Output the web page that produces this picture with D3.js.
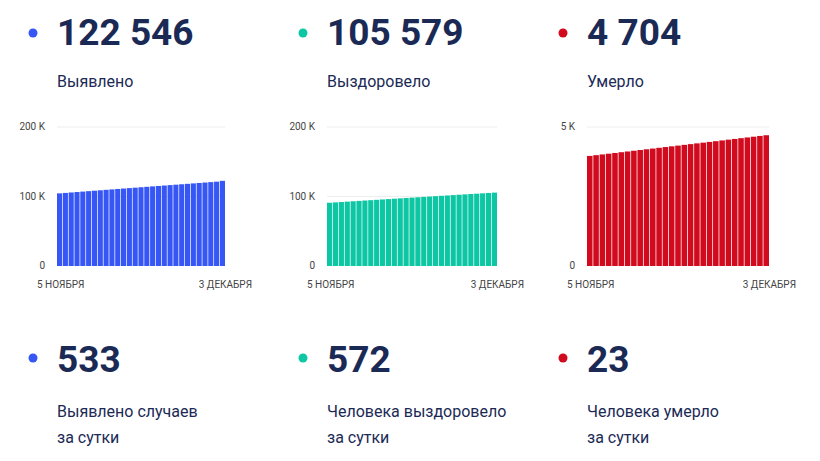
<!DOCTYPE html><html><head><meta charset="utf-8"><script src="https://cdn.jsdelivr.net/npm/d3@7"></script>
<style>body{margin:0;background:#fff}svg{font-family:Roboto,sans-serif}</style></head><body><svg id="c" width="820" height="461"></svg>
<script>
const totals=["122 546","105 579","4 704"];
const totalLabels=["Выявлено","Выздоровело","Умерло"];
const daily=["533","572","23"];
const dailyLabels=[["Выявлено случаев","за сутки"],["Человека выздоровело","за сутки"],["Человека умерло","за сутки"]];
const colors=["#3657f5","#0dc7a4","#d10a1e"];
const dates=["5 НОЯБРЯ","3 ДЕКАБРЯ"];
const cases=[104500,105150,105790,106420,107060,107690,108320,108950,109590,110210,110840,111460,112080,112700,113320,113930,114550,115160,115780,116390,117000,117620,118230,118850,119460,120080,120700,121330,122546];
const recovered=[91000,91540,92070,92610,93130,93660,94190,94710,95240,95760,96290,96820,97340,97860,98390,98910,99430,99950,100480,101000,101520,102040,102560,103080,103590,104070,104560,105050,105579];
const deaths=[3960,3987,4013,4040,4066,4093,4119,4146,4172,4199,4225,4252,4278,4305,4331,4358,4384,4411,4437,4464,4490,4517,4544,4571,4598,4624,4651,4678,4704];
const ticks=[[0,100000,200000],[0,100000,200000],[0,5000]];
const tickFmt=[["0","100 K","200 K"],["0","100 K","200 K"],["0","5 K"]];
const maxs=[200000,200000,5000];
const series=[cases,recovered,deaths];
const colX=[33,303,563];
const plots=[[57,225],[327,497],[587,769]];
const svg=d3.select("#c");
const navy="#1b2a55";
series.forEach((s,i)=>{
 const g=svg.append("g");
 const x0=colX[i];
 g.append("circle").attr("cx",x0).attr("cy",33).attr("r",4.5).attr("fill",colors[i]);
 g.append("text").attr("x",x0+24).attr("y",45).attr("font-size",37).attr("font-weight",700).attr("fill",navy).text(totals[i]);
 g.append("text").attr("x",x0+24).attr("y",87).attr("font-size",16).attr("fill",navy).text(totalLabels[i]);
 g.append("circle").attr("cx",x0).attr("cy",358).attr("r",4.5).attr("fill",colors[i]);
 g.append("text").attr("x",x0+24).attr("y",372).attr("font-size",37).attr("font-weight",700).attr("fill",navy).text(daily[i]);
 dailyLabels[i].forEach((t,j)=>g.append("text").attr("x",x0+24).attr("y",417+j*26).attr("font-size",16).attr("fill",navy).text(t));
 const x=d3.scaleBand().domain(d3.range(s.length)).range(plots[i]).paddingInner(0.12);
 const y=d3.scaleLinear().domain([0,maxs[i]]).range([266,127]);
 ticks[i].forEach((t,k)=>{
  if(t>0)g.append("line").attr("x1",plots[i][0]).attr("x2",plots[i][1]).attr("y1",y(t)).attr("y2",y(t)).attr("stroke","#eee");
  g.append("text").attr("x",plots[i][0]-12).attr("y",y(t)+3).attr("text-anchor","end").attr("font-size",10).attr("fill","#444").text(tickFmt[i][k]);
 });
 g.selectAll("rect").data(s).join("rect").attr("x",(d,k)=>x(k)).attr("width",x.bandwidth()).attr("y",d=>y(d)).attr("height",d=>266-y(d)).attr("fill",colors[i]);
 g.append("text").attr("x",plots[i][0]-20).attr("y",288).attr("font-size",10).attr("fill","#444").text(dates[0]);
 g.append("text").attr("x",plots[i][1]+27).attr("y",288).attr("text-anchor","end").attr("font-size",10).attr("fill","#444").text(dates[1]);
});
</script></body></html>
